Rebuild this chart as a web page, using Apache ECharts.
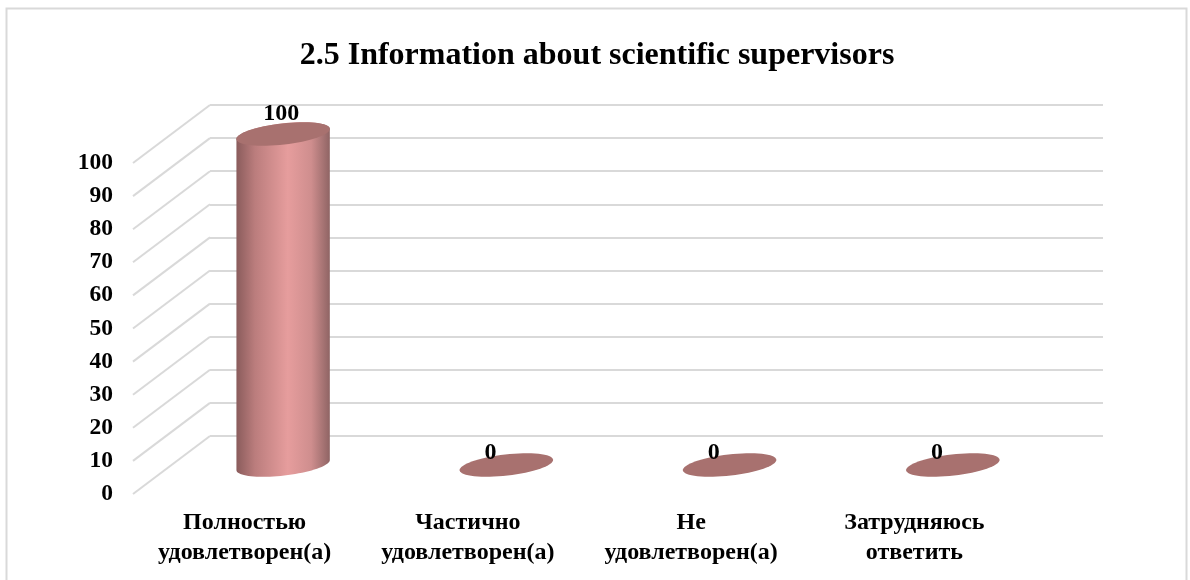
<!DOCTYPE html>
<html><head><meta charset="utf-8">
<style>html,body{margin:0;padding:0;background:#fff}#c{width:1190px;height:580px}</style>
<script src="https://cdn.jsdelivr.net/npm/echarts@6/dist/echarts.min.js"></script>
</head><body><div id="c"></div>
<script>
const titleText = '2.5 Information about scientific supervisors';
const categories = ['Полностью\nудовлетворен(а)', 'Частично\nудовлетворен(а)', 'Не\nудовлетворен(а)', 'Затрудняюсь\nответить'];
const values = [100, 0, 0, 0];
const ticks = [0, 10, 20, 30, 40, 50, 60, 70, 80, 90, 100];

const FONT = '"Liberation Serif","Times New Roman",serif';
const GRID_L = 210, GRID_R = 87, GRID_T = 105, GRID_B = 144; // back wall
const DX = 77, DY = 58;                                     // floor depth
const RX = 47, RY = 10.6, TILT = 6.5 * Math.PI / 180;       // cylinder cap
const GRID_COLOR = '#d9d9d9';

function ellipsePt(cx, cy, t) {
  const x = RX * Math.cos(t), y = RY * Math.sin(t);
  return [cx + x * Math.cos(TILT) + y * Math.sin(TILT), cy - x * Math.sin(TILT) + y * Math.cos(TILT)];
}
function ellipse(cx, cy, from, to, n) {
  const pts = [];
  for (let i = 0; i <= n; i++) pts.push(ellipsePt(cx, cy, from + (to - from) * i / n));
  return pts;
}
function renderDiagonal(params, api) {
  const y = api.coord([0, api.value(0)])[1];
  const x = params.coordSys.x;
  return { type: 'line', shape: { x1: x, y1: y, x2: x - DX, y2: y + DY },
    style: { stroke: GRID_COLOR, lineWidth: 2, fill: null } };
}
function renderCylinder(params, api) {
  const top = api.coord([api.value(0), api.value(1)]);
  const base = api.coord([api.value(0), 0]);
  const cx = top[0] - DX / 2, ty = top[1] + DY / 2, by = base[1] + DY / 2;
  const children = [];
  if (by - ty > 1) {
    children.push({
      type: 'polygon',
      shape: { points: ellipse(cx, by, Math.PI, 0, 40).concat(ellipse(cx, ty, 0, -Math.PI, 40)) },
      style: { fill: new echarts.graphic.LinearGradient(0, 0, 1, 0, [
        { offset: 0, color: '#8a5c5c' }, { offset: 0.2, color: '#bb7d7d' },
        { offset: 0.55, color: '#e69d9d' }, { offset: 0.8, color: '#cf8e8e' },
        { offset: 1, color: '#8f6464' }]) }
    });
  }
  children.push({ type: 'polygon', shape: { points: ellipse(cx, ty, 0, 2 * Math.PI, 64) }, style: { fill: '#a8716f' } });
  const labelOff = by - ty > 1 ? [-2, -20] : [-16, -12];
  children.push({ type: 'text', z2: 10, style: { x: cx + labelOff[0], y: ty + labelOff[1], text: String(api.value(1)),
    fill: '#000', font: 'bold 24px ' + FONT, align: 'center', verticalAlign: 'middle' } });
  return { type: 'group', children };
}

const chart = echarts.init(document.getElementById('c'), null, { renderer: 'canvas' });
chart.setOption({
  animation: false,
  backgroundColor: '#fff',
  title: { text: titleText, left: 592, top: 35, textAlign: 'center',
    textStyle: { fontFamily: FONT, fontWeight: 'bold', fontSize: 32, color: '#000' } },
  graphic: [{ type: 'rect', silent: true, z: -10, shape: { x: 6.5, y: 8.5, width: 1180, height: 600 },
    style: { fill: 'none', stroke: GRID_COLOR, lineWidth: 2 } }],
  grid: [
    { left: GRID_L, right: GRID_R, top: GRID_T, bottom: GRID_B },
    { left: GRID_L - DX, right: GRID_R + DX, top: GRID_T + DY, bottom: GRID_B - DY }
  ],
  xAxis: [
    { type: 'category', gridIndex: 0, data: categories, axisLine: { show: false }, axisTick: { show: false }, axisLabel: { show: false }, splitLine: { show: false } },
    { type: 'category', gridIndex: 1, data: categories, axisLine: { show: false }, axisTick: { show: false }, splitLine: { show: false },
      axisLabel: { interval: 0, margin: 14, color: '#000', fontFamily: FONT, fontWeight: 'bold', fontSize: 24, lineHeight: 30 } }
  ],
  yAxis: [
    { type: 'value', gridIndex: 0, min: 0, max: 100, interval: 10, axisLine: { show: false }, axisTick: { show: false }, axisLabel: { show: false },
      splitLine: { show: true, lineStyle: { color: GRID_COLOR, width: 2 } } },
    { type: 'value', gridIndex: 1, min: 0, max: 100, interval: 10, axisLine: { show: false }, axisTick: { show: false }, splitLine: { show: false },
      axisLabel: { margin: 20, color: '#000', fontFamily: FONT, fontWeight: 'bold', fontSize: 23.5, padding: [3, 0, 0, 0] } }
  ],
  series: [
    { type: 'custom', xAxisIndex: 0, yAxisIndex: 0, clip: false, silent: true, z: 1,
      data: ticks.map((t) => [t]), encode: { y: 0 }, renderItem: renderDiagonal },
    { type: 'custom', xAxisIndex: 0, yAxisIndex: 0, clip: false, silent: true, z: 3,
      data: values.map((v, i) => [i, v]), encode: { x: 0, y: 1 }, renderItem: renderCylinder }
  ]
});
</script></body></html>
